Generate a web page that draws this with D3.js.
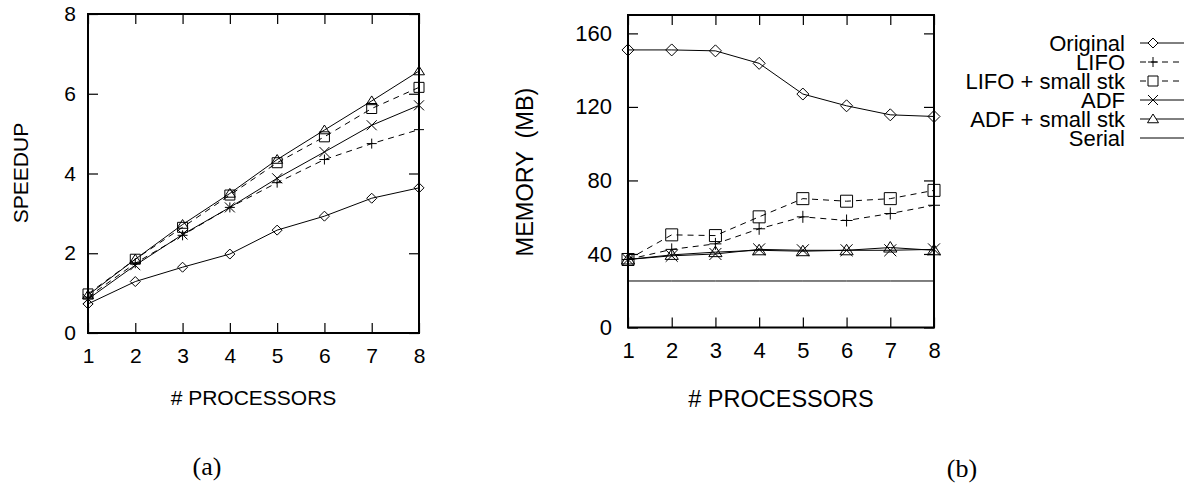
<!DOCTYPE html>
<html>
<head>
<meta charset="utf-8">
<script src="https://cdn.jsdelivr.net/npm/d3@7"></script>
<style>
  body { margin: 0; background: #fff; }
  svg text { font-family: "Liberation Sans", Arial, sans-serif; fill: #000; }
</style>
</head>
<body>
<div id="container"></div>
<script>
// x values (number of processors)
const procs = [1, 2, 3, 4, 5, 6, 7, 8];
const seriesNames = ["Original", "LIFO", "LIFO + small stk", "ADF", "ADF + small stk", "Serial"];

// (a) speedup
const spOriginal  = [0.73, 1.29, 1.65, 1.98, 2.58, 2.93, 3.38, 3.64];
const spLifo      = [0.90, 1.75, 2.45, 3.15, 3.77, 4.35, 4.75, 5.10];
const spLifoSmall = [0.98, 1.85, 2.65, 3.46, 4.27, 4.92, 5.63, 6.16];
const spAdf       = [0.85, 1.70, 2.47, 3.15, 3.88, 4.54, 5.21, 5.71];
const spAdfSmall  = [0.95, 1.85, 2.72, 3.50, 4.35, 5.09, 5.82, 6.57];

// (b) memory in MB
const memOriginal  = [151, 151, 150.5, 143.7, 127, 120.6, 115.7, 114.8];
const memLifo      = [37, 42.5, 45.5, 53.7, 60.2, 58.2, 62, 66.5];
const memLifoSmall = [37, 50.4, 50, 60.2, 70.1, 68.7, 70.1, 74.6];
const memAdf       = [37, 39, 40, 42.5, 42, 42, 42, 42.5];
const memAdfSmall  = [37, 39.5, 41, 42, 41.5, 42, 43.5, 42];
const memSerial    = [25.3, 25.3, 25.3, 25.3, 25.3, 25.3, 25.3, 25.3];

const speedTicks = [0, 2, 4, 6, 8];
const memTicks = [0, 40, 80, 120, 160];

const W = 1191, H = 487;
const svg = d3.select("#container").append("svg")
	.attr("width", W)
	.attr("height", H);

// gnuplot-like point shapes, drawn as outlines
function marker(kind, s) {
	const p = d3.path();
	if (kind === "diamond") {
		p.moveTo(0, -s); p.lineTo(s, 0); p.lineTo(0, s); p.lineTo(-s, 0); p.closePath();
	} else if (kind === "plus") {
		p.moveTo(-s, 0); p.lineTo(s, 0); p.moveTo(0, -s); p.lineTo(0, s);
	} else if (kind === "square") {
		p.rect(-s, -s, 2 * s, 2 * s);
	} else if (kind === "cross") {
		p.moveTo(-s, -s); p.lineTo(s, s); p.moveTo(-s, s); p.lineTo(s, -s);
	} else if (kind === "triangle") {
		p.moveTo(0, -s); p.lineTo(s * 1.1, s * 0.75); p.lineTo(-s * 1.1, s * 0.75); p.closePath();
	}
	return p.toString();
}

const styles = {
	"Original":         { kind: "diamond",  dash: null },
	"LIFO":             { kind: "plus",     dash: "6,5" },
	"LIFO + small stk": { kind: "square",   dash: "6,5" },
	"ADF":              { kind: "cross",    dash: null },
	"ADF + small stk":  { kind: "triangle", dash: null },
	"Serial":           { kind: null,       dash: null }
};

function drawPanel(cfg) {
	const x = d3.scaleLinear().domain([1, 8]).range([cfg.x0, cfg.x1]);
	const y = d3.scaleLinear().domain(cfg.yDomain).range([cfg.y0, cfg.y1]);
	const g = svg.append("g");

	// inward ticks on all four sides
	const ax = [
		[d3.axisBottom(x).tickValues(procs).tickFormat(d3.format("d")).tickSize(-10).tickPadding(15), `translate(0,${cfg.y0})`],
		[d3.axisTop(x).tickValues(procs).tickSize(-10).tickFormat(""), `translate(0,${cfg.y1})`],
		[d3.axisLeft(y).tickValues(cfg.yTicks).tickFormat(d3.format("d")).tickSize(-10).tickPadding(cfg.yPad), `translate(${cfg.x0},0)`],
		[d3.axisRight(y).tickValues(cfg.yTicks).tickSize(-10).tickFormat(""), `translate(${cfg.x1},0)`]
	];
	ax.forEach(([a, tr]) => {
		const ag = g.append("g").attr("transform", tr).call(a);
		ag.select(".domain").remove();
		ag.selectAll(".tick line").attr("stroke", "#000").attr("stroke-width", 1.2);
		ag.selectAll(".tick text").attr("font-size", cfg.tickFont)
			.attr("font-family", '"Liberation Sans", Arial, sans-serif').attr("fill", "#000");
	});

	g.append("rect")
		.attr("x", cfg.x0).attr("y", cfg.y1)
		.attr("width", cfg.x1 - cfg.x0).attr("height", cfg.y0 - cfg.y1)
		.attr("fill", "none").attr("stroke", "#000").attr("stroke-width", 2);

	const line = d3.line().x((d, i) => x(procs[i])).y(d => y(d));
	cfg.series.forEach(s => {
		const st = styles[s.name];
		g.append("path")
			.attr("d", line(s.values))
			.attr("fill", "none").attr("stroke", "#000").attr("stroke-width", 1)
			.attr("stroke-dasharray", st.dash);
		if (st.kind) {
			g.selectAll(null).data(s.values).enter().append("path")
				.attr("transform", (d, i) => `translate(${x(procs[i])},${y(d)})`)
				.attr("d", marker(st.kind, cfg.mk))
				.attr("fill", "none").attr("stroke", "#000").attr("stroke-width", 1);
		}
	});

	g.append("text")
		.attr("x", (cfg.x0 + cfg.x1) / 2).attr("y", cfg.xTitleY)
		.attr("text-anchor", "middle").attr("font-size", cfg.titleFont)
		.text("# PROCESSORS");
	g.append("text")
		.attr("transform", `translate(${cfg.yTitleX},${cfg.yTitleY}) rotate(-90)`)
		.attr("text-anchor", "middle").attr("font-size", cfg.titleFont)
		.attr("xml:space", "preserve")
		.text(cfg.yTitle);
	return { x, y };
}

drawPanel({
	x0: 88, x1: 419, y0: 333, y1: 14,
	yDomain: [0, 8], yTicks: speedTicks, yPad: 12,
	tickFont: 21, titleFont: 21, mk: 5,
	xTitleY: 405, yTitleX: 28, yTitleY: 173, yTitle: "SPEEDUP",
	series: [
		{ name: "Original", values: spOriginal },
		{ name: "LIFO", values: spLifo },
		{ name: "LIFO + small stk", values: spLifoSmall },
		{ name: "ADF", values: spAdf },
		{ name: "ADF + small stk", values: spAdfSmall }
	]
});

drawPanel({
	x0: 628, x1: 934, y0: 327.5, y1: 15,
	yDomain: [0, 170], yTicks: memTicks, yPad: 16,
	tickFont: 22, titleFont: 23.5, mk: 6,
	xTitleY: 407, yTitleX: 533, yTitleY: 172, yTitle: "MEMORY  (MB)",
	series: [
		{ name: "Original", values: memOriginal },
		{ name: "LIFO", values: memLifo },
		{ name: "LIFO + small stk", values: memLifoSmall },
		{ name: "ADF", values: memAdf },
		{ name: "ADF + small stk", values: memAdfSmall },
		{ name: "Serial", values: memSerial }
	]
});

// legend
const leg = svg.append("g");
seriesNames.forEach((name, i) => {
	const cy = 43 + i * 19;
	const st = styles[name];
	leg.append("text")
		.attr("x", 1125).attr("y", cy)
		.attr("dy", "0.36em")
		.attr("text-anchor", "end").attr("font-size", 22)
		.text(name);
	leg.append("line")
		.attr("x1", 1140).attr("x2", 1184).attr("y1", cy).attr("y2", cy)
		.attr("stroke", "#000").attr("stroke-width", 1)
		.attr("stroke-dasharray", st.dash);
	if (st.kind) {
		leg.append("path")
			.attr("transform", `translate(1153,${cy})`)
			.attr("d", marker(st.kind, 5))
			.attr("fill", "#fff").attr("stroke", "#000").attr("stroke-width", 1);
	}
});

// panel captions
svg.append("text").attr("x", 207).attr("y", 475)
	.attr("text-anchor", "middle").attr("font-size", 26)
	.style("font-family", '"Liberation Serif", "Times New Roman", serif')
	.text("(a)");
svg.append("text").attr("x", 962).attr("y", 477)
	.attr("text-anchor", "middle").attr("font-size", 26)
	.style("font-family", '"Liberation Serif", "Times New Roman", serif')
	.text("(b)");
</script>
</body>
</html>
